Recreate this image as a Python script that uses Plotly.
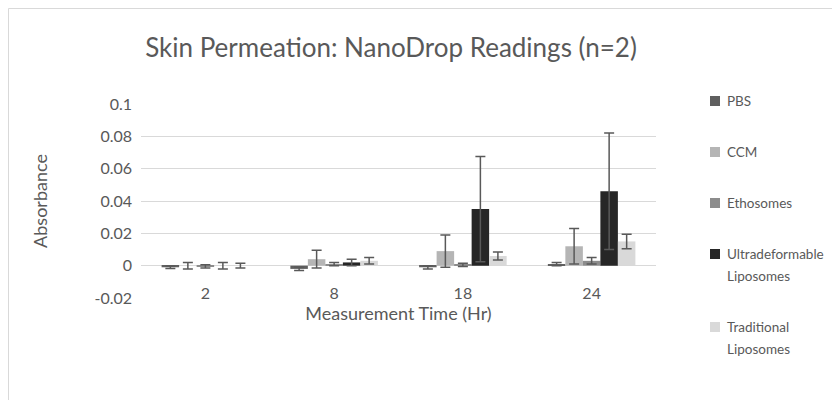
import plotly.graph_objects as go

# measurement times (hours)
times = ["2", "8", "18", "24"]

series_names = ["PBS", "CCM", "Ethosomes", "Ultradeformable<br>Liposomes", "Traditional<br>Liposomes"]
series_colors = ["#5f5f5f", "#b5b5b5", "#8c8c8c", "#262626", "#d9d9d9"]

pbs = [-0.001, -0.002, -0.001, 0.001]
ccm = [0.0, 0.004, 0.009, 0.012]
ethosomes = [-0.0005, 0.001, 0.0005, 0.003]
ultradeformable = [0.0, 0.002, 0.035, 0.046]
traditional = [0.0, 0.003, 0.006, 0.015]

pbs_err = [0.0008, 0.001, 0.001, 0.001]
ccm_err = [0.002, 0.0055, 0.0100, 0.011]
ethosomes_err = [0.001, 0.001, 0.001, 0.002]
ultradeformable_err = [0.002, 0.002, 0.0325, 0.036]
traditional_err = [0.0015, 0.002, 0.0025, 0.0045]

values = [pbs, ccm, ethosomes, ultradeformable, traditional]
errors = [pbs_err, ccm_err, ethosomes_err, ultradeformable_err, traditional_err]

TEXT = "#595959"
GRID = "#d9d9d9"
FONT = "Lato"

# plot area in px
L, R, T, B = 133, 192, 96, 110
PW, PH = 840 - L - R, 400 - T - B


def px_x(x):
    return (x - L) / PW


def px_y(y):
    return 1 - (y - T) / PH


fig = go.Figure()
for name, color, vals, errs in zip(series_names, series_colors, values, errors):
    fig.add_trace(go.Bar(
        x=times, y=vals, name=name, showlegend=False,
        marker=dict(color=color, line=dict(width=0)),
        error_y=dict(type="data", array=errs, visible=True, color="#595959", thickness=1.5, width=5),
    ))

# Excel-style legend: entries spread down the right side (plotly's legend would clip here)
shapes = []
annotations = []
LINE_H, GAP, y_top = 22, 29, 82
for name, color in zip(series_names, series_colors):
    lines = name.split("<br>")
    yc = y_top + LINE_H / 2
    shapes.append(dict(type="rect", xref="paper", yref="paper",
                       x0=px_x(702), x1=px_x(712), y0=px_y(yc + 5), y1=px_y(yc - 5),
                       fillcolor=color, line=dict(width=0)))
    for k, line in enumerate(lines):
        annotations.append(dict(text=line, xref="paper", yref="paper",
                                x=px_x(717), y=px_y(yc + k * LINE_H),
                                xanchor="left", yanchor="middle", showarrow=False,
                                font=dict(size=13.5, color=TEXT, family=FONT)))
    y_top += LINE_H * len(lines) + GAP

# light chart-area border
shapes.append(dict(type="rect", xref="paper", yref="paper",
                   x0=px_x(0.5), x1=px_x(839.5), y0=px_y(410), y1=px_y(0.5),
                   line=dict(color="#d9d9d9", width=1)))

fig.update_layout(
    width=840, height=400,
    barmode="group", bargap=0.32, bargroupgap=0,
    paper_bgcolor="white", plot_bgcolor="white",
    font=dict(family=FONT, color=TEXT, size=16),
    margin=dict(l=L, r=R, t=T, b=B, autoexpand=False),
    showlegend=False,
    title=dict(text="Skin Permeation: NanoDrop Readings (n=2)", x=0.456, xanchor="center",
               y=0.9, yanchor="middle", font=dict(size=26, color=TEXT, family=FONT)),
    xaxis=dict(title=dict(text="Measurement Time (Hr)", font=dict(size=18), standoff=0),
               showline=False, ticks="", tickfont=dict(size=16), ticklabelstandoff=-16),
    yaxis=dict(title=dict(text="Absorbance", font=dict(size=18), standoff=42),
               range=[-0.02, 0.1], tickvals=[-0.02, 0, 0.02, 0.04, 0.06, 0.08, 0.1],
               ticktext=["-0.02", "0", "0.02", "0.04", "0.06", "0.08", "0.1"],
               gridcolor=GRID, gridwidth=1, zeroline=True, zerolinecolor=GRID, zerolinewidth=1,
               showline=False, tickfont=dict(size=16), ticklabelstandoff=8),
    shapes=shapes,
    annotations=annotations,
)

fig.write_html("out.html")
